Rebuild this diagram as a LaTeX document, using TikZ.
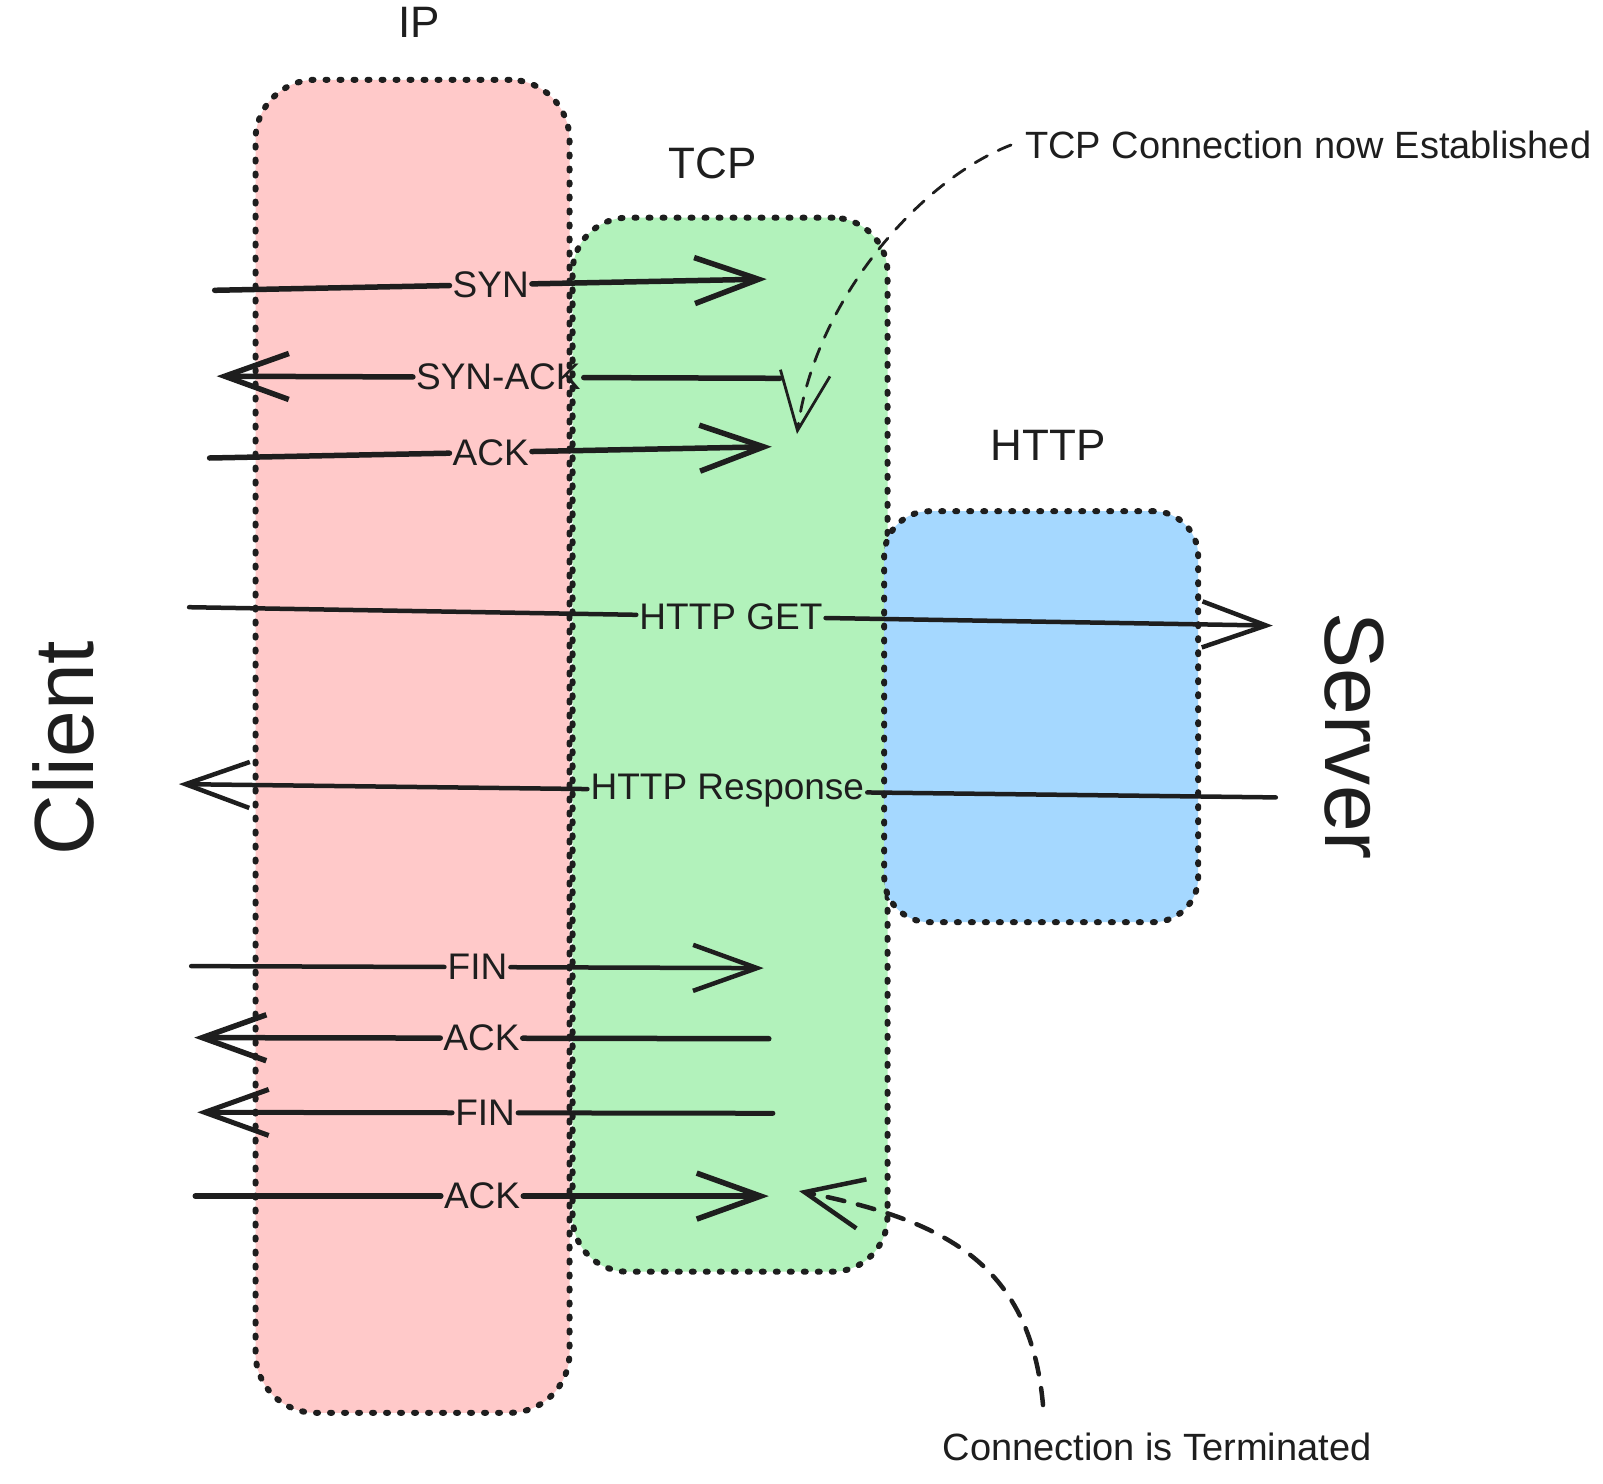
\documentclass[tikz,border=0pt]{standalone}
\usepackage{fontspec}
\setmainfont{Liberation Sans}
\usetikzlibrary{arrows.meta,calc}
\definecolor{ink}{HTML}{1E1E1E}
\definecolor{ipfill}{HTML}{FFC9C9}
\definecolor{tcpfill}{HTML}{B2F2BB}
\definecolor{httpfill}{HTML}{A5D8FF}
\begin{document}
\begin{tikzpicture}[x=1pt,y=-1pt,
  stackbox/.style={draw=ink, line width=6pt, dash pattern=on 2pt off 12pt,
    line cap=round, rounded corners=#1, inner sep=0pt},
  msg/.style={draw=ink, line width=5.5pt, line cap=round, line join=round},
  msgtip/.style={-{Straight Barb[length=64pt,width=46pt]}},
  lbl/.style={font=\fontsize{37}{40}\selectfont, text=ink, inner sep=3pt},
  layertitle/.style={font=\fontsize{44}{48}\selectfont, text=ink},
  endpoint/.style={font=\fontsize{84}{90}\selectfont, text=ink},
  notetext/.style={font=\fontsize{38}{42}\selectfont, text=ink},
  note/.style={draw=ink, line width=3pt, dash pattern=on 14pt off 12pt, line cap=round},
  notetip/.style={-{Straight Barb[length=58pt,width=50pt]}}
]
\useasboundingbox (0,0) rectangle (1603,1483);

% protocol layers
\node[stackbox=60pt, fill=ipfill, minimum width=314pt, minimum height=1333pt]
  (ip) at (412.5,746.3) {};
\node[stackbox=55pt, fill=tcpfill, minimum width=315pt, minimum height=1054pt]
  (tcp) at (730,744.7) {};
\node[stackbox=45pt, fill=httpfill, minimum width=314pt, minimum height=411pt]
  (http) at (1041.2,716.7) {};

\node[layertitle] (iptitle) at (419,22.5) {IP};
\node[layertitle] (tcptitle) at (712.5,163.6) {TCP};
\node[layertitle] (httptitle) at (1048,445) {HTTP};

% endpoints
\node[endpoint, rotate=90] (client) at (63,748) {Client};
\node[endpoint, rotate=-90] (server) at (1354,736) {Server};

% messages: the label sits in a gap of the line
\foreach \n/\sx/\sy/\ex/\ey/\t/\w in {
  syn/214.7/290.3/766.7/279.1/SYN/5.5pt,
  synack/780/378.3/216.7/376.2/SYN-ACK/5.5pt,
  ackone/209.6/458/771.8/446.7/ACK/5.5pt,
  get/189.1/607.2/1272.8/625.6/HTTP GET/4.5pt,
  resp/1275.8/797.4/178.9/784.1/HTTP Response/4.5pt,
  finone/191.2/966.1/763.7/968.1/FIN/4.5pt,
  acktwo/768.8/1038.7/194.2/1037.6/ACK/5.5pt,
  fintwo/772.9/1113.3/197.3/1112.3/FIN/5pt,
  ackthree/195.3/1196.1/768.8/1196.1/ACK/5.5pt%
}{
  \coordinate (\n-s) at (\sx,\sy);
  \coordinate (\n-e) at (\ex,\ey);
  \node[lbl] (\n) at ($(\n-s)!0.5!(\n-e)$) {\t};
  \draw[msg, line width=\w] (\n-s) -- (\n);
  \draw[msg, msgtip, line width=\w] (\n) -- (\n-e);
}

% annotations
\node[notetext, anchor=west, inner sep=14pt] (est) at (1011,145)
  {TCP Connection now Established};
\coordinate (est-tip) at (797,434);
\draw[note, notetip, line width=2.8pt] (est.west) .. controls (920,180) and (815,300) .. (est-tip);

\node[notetext] (term) at (1157,1446.5) {Connection is Terminated};
\coordinate (term-start) at (1043,1405);
\coordinate (term-tip) at (799,1191);
\draw[note, notetip, line width=4.5pt, dash pattern=on 17pt off 14pt]
  (term-start) .. controls (1030,1260) and (940,1220) .. (term-tip);
\end{tikzpicture}
\end{document}
